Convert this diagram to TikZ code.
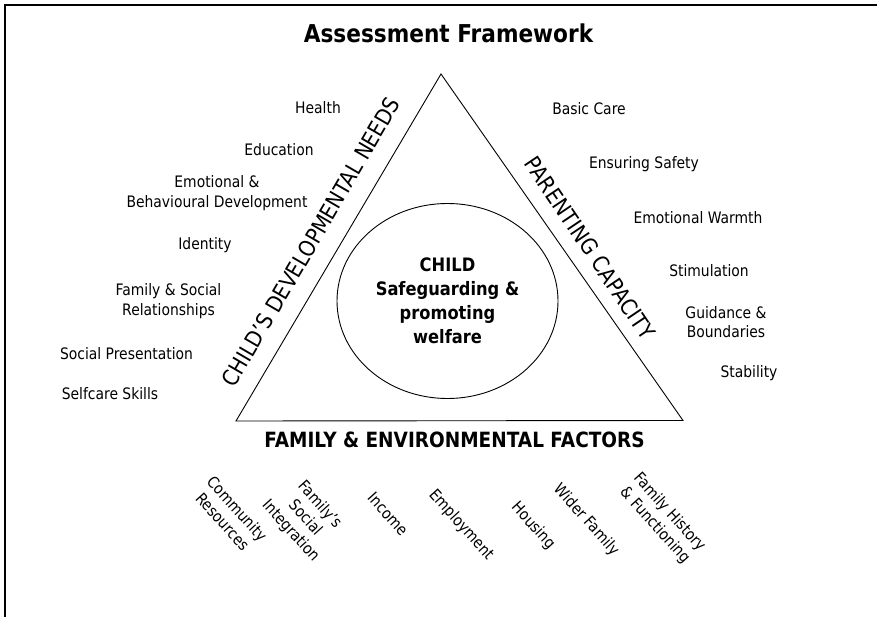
\documentclass[tikz,border=0pt]{standalone}
\usepackage{fontspec}
\setmainfont{DejaVu Sans}[FakeStretch=0.88]
\usetikzlibrary{shapes.geometric}
\begin{document}
\begin{tikzpicture}[x=1pt,y=-1pt,
  lbl/.style={font=\fontsize{15.8}{19.5}\selectfont, align=center, inner sep=0pt},
  sidelbl/.style={font=\fontsize{22.4}{26}\selectfont, inner sep=0pt},
  botlbl/.style={lbl, rotate=-48},
  edge/.style={line width=0.9pt, black},
  frame/.style={line width=2.2pt, black}]
\useasboundingbox (0,0) rectangle (877,617);
\fill[white] (0,0) rectangle (877,617);
% frame
\coordinate (fbl) at (5,617);
\coordinate (ftl) at (5,5);
\coordinate (ftr) at (877,5);
\draw[frame] (fbl) -- (ftl) -- (ftr);
% title
\node[font=\bfseries\fontsize{24.6}{28}\selectfont, inner sep=0pt] (title) at (448.5,33.5) {Assessment Framework};
% triangle
\coordinate (apex) at (441,74);
\coordinate (bl) at (236,421);
\coordinate (br) at (683,420.5);
\draw[edge, line join=miter] (apex) -- (br) -- (bl) -- cycle;
% child ellipse
\node[draw, edge, ellipse, minimum width=221, minimum height=195, inner sep=0pt,
      font=\bfseries\fontsize{18.5}{24}\selectfont, align=center] (child) at (447.5,301)
  {CHILD\\Safeguarding \&\\promoting\\welfare};
% side labels
\node[sidelbl, rotate=59.7] (cdn) at (311,242) {CHILD’S DEVELOPMENTAL NEEDS};
\node[sidelbl, rotate=-56] (pc) at (590,248) {PARENTING CAPACITY};
\node[font=\bfseries\fontsize{21}{25}\selectfont, inner sep=0pt] (fef) at (454.5,439.5) {FAMILY \& ENVIRONMENTAL FACTORS};
% child's developmental needs
\node[lbl] (health) at (318,108) {Health};
\node[lbl] (edu) at (279,150) {Education};
\node[lbl] (emo) at (217,193) {Emotional \&\\Behavioural Development};
\node[lbl] (ident) at (205,245) {Identity};
\node[lbl] (famsoc) at (168.5,301) {Family \& Social\\Relationships};
\node[lbl] (socpres) at (126.5,354) {Social Presentation};
\node[lbl] (selfcare) at (110,394) {Selfcare Skills};
% parenting capacity
\node[lbl] (basic) at (589,108.5) {Basic Care};
\node[lbl] (safety) at (644,164) {Ensuring Safety};
\node[lbl] (warmth) at (698,218) {Emotional Warmth};
\node[lbl] (stim) at (709,271) {Stimulation};
\node[lbl] (guid) at (726,322) {Guidance \&\\Boundaries};
\node[lbl] (stab) at (749,373) {Stability};
% family & environmental factors
\node[botlbl] (comm) at (230,515) {Community\\Resources};
\node[botlbl] (integ) at (305,518) {Family’s\\Social\\Integration};
\node[botlbl] (income) at (388,514) {Income};
\node[botlbl] (employ) at (461,525) {Employment};
\node[botlbl] (housing) at (533,526) {Housing};
\node[botlbl] (wider) at (586,520) {Wider Family};
\node[botlbl] (history) at (662,519) {Family History\\\& Functioning};
\end{tikzpicture}
\end{document}
